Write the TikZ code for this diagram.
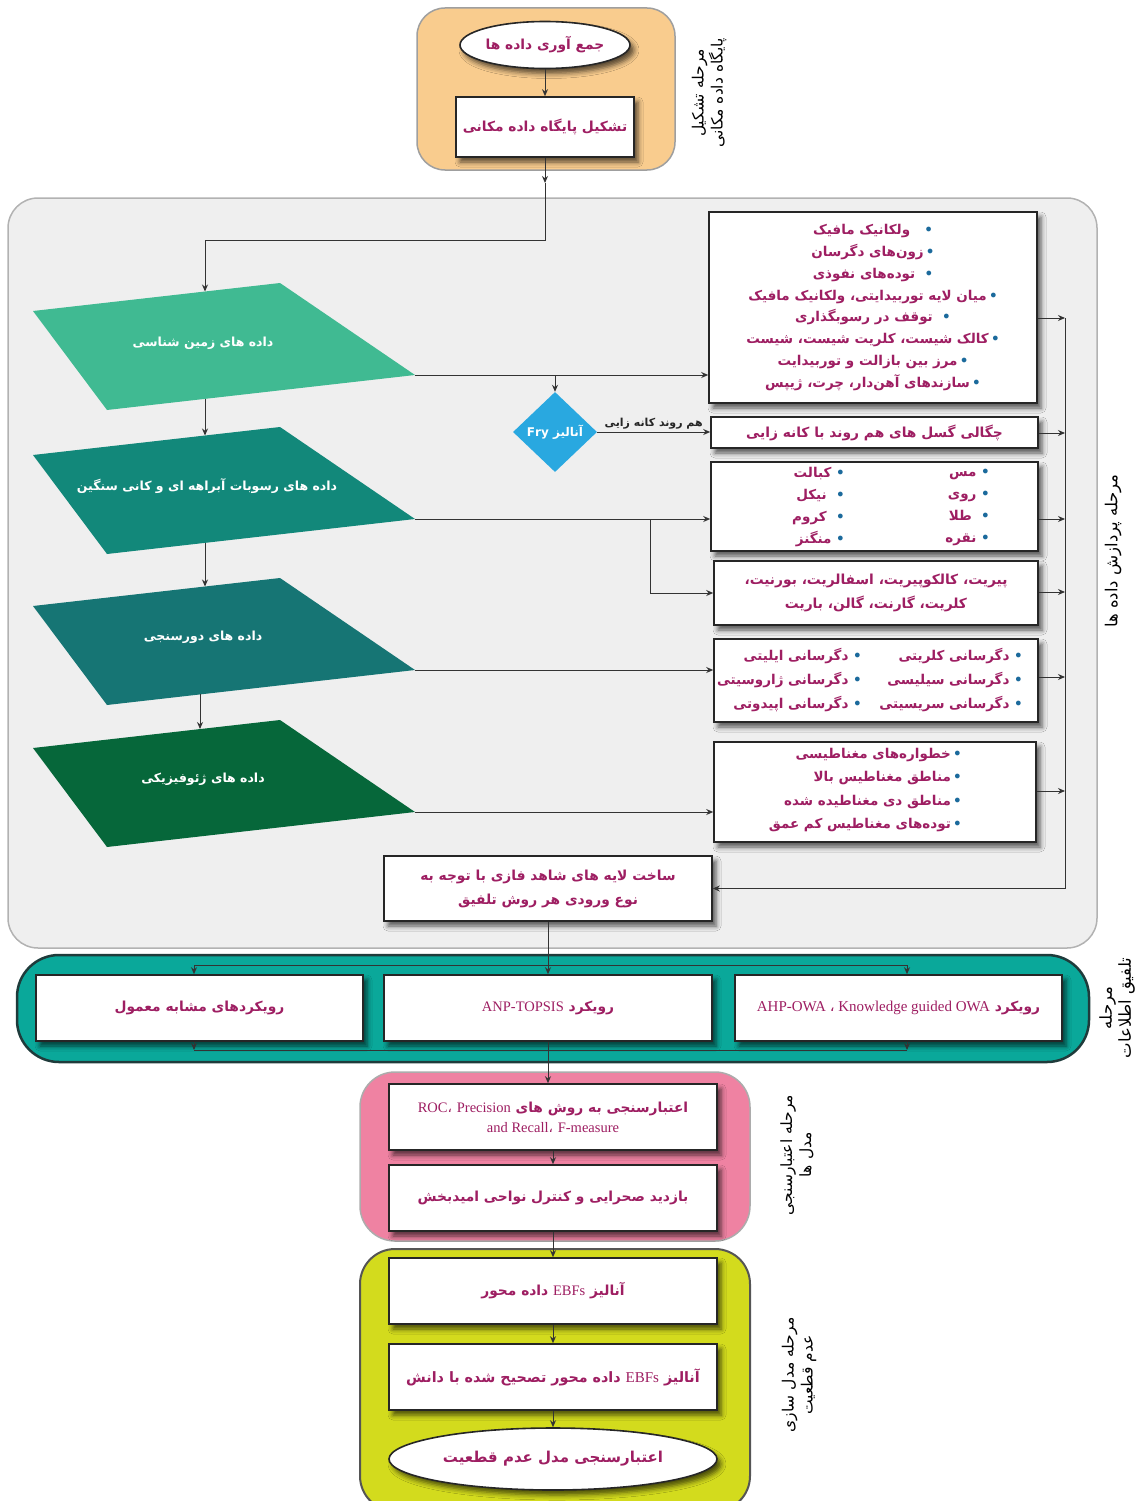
\documentclass[tikz,border=0pt]{standalone}
\usepackage{fontspec}
\usetikzlibrary{arrows.meta,shapes.geometric,shadows,shadows.blur,calc}
\TeXXeTstate=1
\newfontfamily\arabicfont[Script=Arabic]{DejaVu Sans}
\newfontfamily\latinfont{Liberation Serif}
\newcommand\fa[1]{\beginR #1\endR}
\newcommand\la[1]{\beginL{\latinfont\mdseries #1}\endL}
\newcommand\bul{{\color{bulletc}•}}
\definecolor{txt}{HTML}{9E1E62}
\definecolor{bulletc}{HTML}{1B6A9C}
\definecolor{linec}{HTML}{333333}
\definecolor{orangep}{HTML}{F9CC8E}
\definecolor{grayp}{HTML}{EFEFEF}
\definecolor{tealp}{HTML}{0AA89A}
\definecolor{tealb}{HTML}{1F3B3B}
\definecolor{pinkp}{HTML}{EF82A2}
\definecolor{yellowp}{HTML}{D3DB1D}
\definecolor{yellowb}{HTML}{555555}
\definecolor{pa}{HTML}{40BA92}
\definecolor{pb}{HTML}{12887A}
\definecolor{pc}{HTML}{167574}
\definecolor{pd}{HTML}{06673A}
\definecolor{fryc}{HTML}{29A8E0}
\begin{document}
\begin{tikzpicture}[x=1pt,y=-1pt,
  panel/.style={draw=gray!75, line width=1.5pt, inner sep=0pt},
  shadowed/.style={blur shadow={shadow xshift=4pt,shadow yshift=-5pt,shadow blur radius=5pt,shadow opacity=65}},
  box/.style={draw=black!85, line width=1.6pt, fill=white, shadowed, inner sep=0pt, align=center,
    text=txt, font=\arabicfont\bfseries\fontsize{13.8}{22}\selectfont},
  oval/.style={box, ellipse},
  ttext/.style={text=txt, font=\arabicfont\bfseries\fontsize{13.5}{22}\selectfont, inner sep=0pt},
  ptext/.style={text=white, font=\arabicfont\bfseries\fontsize{12.5}{16}\selectfont},
  stage/.style={font=\arabicfont\fontsize{15.5}{19}\selectfont, align=center, rotate=90, text=black},
  conn/.style={draw=linec, line width=1pt},
  arr/.style={conn, -{Stealth[length=7pt,width=6pt]}},
  lbl/.style={font=\arabicfont\bfseries\fontsize{11}{12}\selectfont, text=black!85, inner sep=1pt}
]
\useasboundingbox (0,0) rectangle (1136,1501);

% ---------- stage panels ----------
\node[panel, fill=orangep, minimum width=258, minimum height=162, rounded corners=28pt] (s1) at (546,89) {};
\node[panel, fill=grayp, draw=gray!60, minimum width=1089, minimum height=750, rounded corners=30pt] (s2) at (552.5,573) {};
\node[panel, fill=tealp, draw=tealb, line width=2.5pt, minimum width=1072, minimum height=107, rounded corners=42pt] (s3) at (553,1008.5) {};
\node[panel, fill=pinkp, draw=gray!65, minimum width=390, minimum height=169, rounded corners=35pt] (s4) at (555,1156.5) {};
\node[panel, fill=yellowp, draw=yellowb, line width=2pt, minimum width=390, minimum height=262, rounded corners=35pt] (s5) at (555,1380) {};

% ---------- stage labels ----------
\node[stage] (l1) at (709,93) {\fa{مرحله تشکیل}\\\fa{پایگاه داده مکانی}};
\node[stage, font=\arabicfont\fontsize{16.5}{19}\selectfont] (l2) at (1113,551) {\fa{مرحله پردازش داده ها}};
\node[stage, font=\arabicfont\fontsize{16.5}{19}\selectfont] (l3) at (1117,1008) {\fa{مرحله}\\\fa{تلفیق اطلاعات}};
\node[stage] (l4) at (797,1155) {\fa{مرحله اعتبارسنجی}\\\fa{مدل ها}};
\node[stage] (l5) at (799,1375) {\fa{مرحله مدل سازی}\\\fa{عدم قطعیت}};

% ---------- stage 1 ----------
\node[oval, minimum width=170, minimum height=47] (a1) at (545,45) {\fa{جمع آوری داده ها}};
\node[box, minimum width=178, minimum height=60] (a2) at (545,127) {\fa{تشکیل پایگاه داده مکانی}};
\draw[arr] (a1.south) -- (a2.north);
\coordinate (j0) at (545,183);
\draw[arr] (a2.south) -- (j0);

% ---------- parallelograms ----------
\foreach \yy/\cc/\nn in {283/pa/1, 427/pb/2, 578/pc/3, 720/pd/4}{
  \fill[\cc] (33,\yy+28) -- (280,\yy) -- (415,\yy+92) -- (107,\yy+127) -- cycle;
  \coordinate (p\nn r) at (415,\yy+92);
}
\node[ptext] (pt1) at (203,343) {\fa{داده های زمین شناسی}};
\node[ptext] (pt2) at (207,486) {\fa{داده های رسوبات آبراهه ای و کانی سنگین}};
\node[ptext] (pt3) at (203,637) {\fa{داده های دورسنجی}};
\node[ptext] (pt4) at (203,779) {\fa{داده های ژئوفیزیکی}};

\coordinate (p1top) at (205,291.5);
\coordinate (p1bot) at (205,399);
\coordinate (p2top) at (205,435.5);
\coordinate (p2bot) at (205,543);
\coordinate (p3top) at (205,586.5);
\coordinate (p3bot) at (200,694.4);
\coordinate (p4top) at (200,729);
\draw[arr] (j0) -- (545,240) -- (205,240) -- (p1top);
\draw[arr] (p1bot) -- (p2top);
\draw[arr] (p2bot) -- (p3top);
\draw[arr] (p3bot) -- (p4top);

% ---------- info boxes ----------
\node[box, minimum width=328, minimum height=191, font=\arabicfont\bfseries\fontsize{13.5}{21.9}\selectfont] (b1) at (873,307.5) {%
  \fa{ولکانیک مافیک}\ \ \ \bul\\
  \fa{زون‌های دگرسان}\,\bul\\
  \fa{توده‌های نفوذی}\ \ \bul\\
  \fa{میان لایه توربیدایتی، ولکانیک مافیک}\,\bul\\
  \fa{توقف در رسوبگذاری}\ \ \bul\\
  \fa{کالک شیست، کلریت شیست، شیست}\,\bul\\
  \fa{مرز بین بازالت و توربیدایت}\,\bul\\
  \fa{سازندهای آهن‌دار، چرت، ژیپس}\,\bul};
\node[box, minimum width=327, minimum height=31] (b2) at (874.5,432.5) {\fa{چگالی گسل های هم روند با کانه زایی}};
\node[box, minimum width=327, minimum height=89] (b3) at (874.5,506.5) {};
\node[ttext, anchor=east, align=right] (b3r) at (990,507) {\fa{مس}\ \bul\\\fa{روی}\ \bul\\\fa{طلا}\ \ \bul\\\fa{نقره}\ \bul};
\node[ttext, anchor=east, align=right] (b3l) at (845,507) {\fa{کبالت}\ \bul\\\fa{نیکل}\ \ \bul\\\fa{کروم}\ \ \bul\\\fa{منگنز}\ \bul};
\node[box, minimum width=324, minimum height=64, font=\arabicfont\bfseries\fontsize{13.8}{24}\selectfont] (b4) at (876,593) {\fa{پیریت، کالکوپیریت، اسفالریت، بورنیت،}\\\fa{کلریت، گارنت، گالن، باریت}};
\node[box, minimum width=324, minimum height=83] (b5) at (876,680.5) {};
\node[ttext, anchor=east, align=right, font=\arabicfont\bfseries\fontsize{13.5}{24}\selectfont] (b5r) at (1023,680) {\fa{دگرسانی کلریتی}\ \bul\\\fa{دگرسانی سیلیسی}\ \bul\\\fa{دگرسانی سریسیتی}\ \bul};
\node[ttext, anchor=east, align=right, font=\arabicfont\bfseries\fontsize{13.5}{24}\selectfont] (b5l) at (862,680) {\fa{دگرسانی ایلیتی}\ \bul\\\fa{دگرسانی ژاروسیتی}\ \bul\\\fa{دگرسانی اپیدوتی}\ \bul};
\node[box, minimum width=322, minimum height=100] (b6) at (875,792) {};
\node[ttext, anchor=east, align=right, font=\arabicfont\bfseries\fontsize{13.5}{23.3}\selectfont] (b6t) at (962,790) {\fa{خطواره‌های مغناطیسی}\,\bul\\\fa{مناطق مغناطیس بالا}\,\bul\\\fa{مناطق دی مغناطیده شده}\,\bul\\\fa{توده‌های مغناطیس کم عمق}\,\bul};
\node[box, minimum width=328, minimum height=65, font=\arabicfont\bfseries\fontsize{13.8}{24}\selectfont] (b7) at (548,888.5) {\fa{ساخت لایه های شاهد فازی با توجه به}\\\fa{نوع ورودی هر روش تلفیق}};

% Fry analysis
\node[diamond, fill=fryc, minimum width=84, minimum height=80, inner sep=0pt,
      text=white, font=\arabicfont\bfseries\fontsize{12}{14}\selectfont] (fry) at (555,432) {\fa{آنالیز \beginL Fry\endL}};
\coordinate (fj) at (555,375);
\draw[arr] (fj) -- (fry.north);
\draw[arr] (fry.east) -- node[lbl, above=1pt] (lfry) {\fa{هم روند کانه زایی}} (fry.east -| b2.west);

% left connectors
\draw[arr] (p1r) -- (p1r -| b1.west);
\draw[arr] (p2r) -- (p2r -| b3.west);
\coordinate (bj) at (650,519);
\draw[arr] (bj) -- (bj |- b4.west) -- (b4.west);
\draw[arr] (p3r) -- (p3r -| b5.west);
\draw[arr] (p4r) -- (p4r -| b6.west);

% right collector
\coordinate (r1) at (1065,318);
\coordinate (r2) at (1065,433);
\coordinate (r3) at (1065,519);
\coordinate (r4) at (1065,592);
\coordinate (r5) at (1065,677);
\coordinate (r6) at (1065,791);
\coordinate (r7) at (1065,888.5);
\draw[arr] (b1.east |- r1) -- (r1);
\draw[arr] (b2.east |- r2) -- (r2);
\draw[arr] (b3.east |- r3) -- (r3);
\draw[arr] (b4.east |- r4) -- (r4);
\draw[arr] (b5.east |- r5) -- (r5);
\draw[arr] (b6.east |- r6) -- (r6);
\draw[arr] (r1) -- (r7) -- (b7.east);

% ---------- fusion ----------
\node[box, minimum width=327, minimum height=66] (c1) at (199.5,1008) {\fa{رویکردهای مشابه معمول}};
\node[box, minimum width=328, minimum height=66] (c2) at (548,1008) {\fa{رویکرد \la{\fontsize{14.5}{16}\selectfont ANP-TOPSIS}}};
\node[box, minimum width=327, minimum height=66] (c3) at (898.5,1008) {\fa{رویکرد \la{\fontsize{15}{16}\selectfont AHP-OWA {\arabicfont ،} Knowledge guided OWA}}};
\coordinate (tl) at (194,965);
\coordinate (tc) at (548,965);
\coordinate (tr) at (907,965);
\coordinate (bl) at (194,1050);
\coordinate (br) at (907,1050);
\draw[conn] (b7.south) -- (tc);
\draw[conn] (tl) -- (tr);
\draw[arr] (tl) -- (tl |- c1.north);
\draw[arr] (tc) -- (c2.north);
\draw[arr] (tr) -- (tr |- c3.north);
\draw[arr] (bl |- c1.south) -- (bl);
\draw[arr] (br |- c3.south) -- (br);
\draw[conn] (bl) -- (br);

% ---------- validation ----------
\node[box, minimum width=328, minimum height=66, font=\arabicfont\bfseries\fontsize{13.8}{20}\selectfont] (d1) at (553,1117) {\fa{اعتبارسنجی به روش های \beginL{\latinfont\mdseries\fontsize{14.5}{16}\selectfont ROC}{\arabicfont\mdseries ،} {\latinfont\mdseries\fontsize{14.5}{16}\selectfont Precision}\endL}\\\beginL{\latinfont\mdseries\fontsize{14.5}{16}\selectfont and Recall}{\arabicfont\mdseries ،} {\latinfont\mdseries\fontsize{14.5}{16}\selectfont F-measure}\endL};
\node[box, minimum width=328, minimum height=66] (d2) at (553,1198) {\fa{بازدید صحرایی و کنترل نواحی امیدبخش}};
\draw[arr] (c2.south) -- (c2.south |- d1.north);
\draw[arr] (d1.south) -- (d2.north);

% ---------- uncertainty ----------
\node[box, minimum width=328, minimum height=66] (e1) at (553,1291) {\fa{آنالیز \la{\fontsize{14.5}{16}\selectfont EBFs} داده محور}};
\node[box, minimum width=328, minimum height=66, font=\arabicfont\bfseries\fontsize{14.3}{20}\selectfont] (e2) at (553,1377) {\fa{آنالیز \la{\fontsize{15}{16}\selectfont EBFs} داده محور تصحیح شده با دانش}};
\node[oval, minimum width=328, minimum height=62, font=\arabicfont\bfseries\fontsize{15}{20}\selectfont] (e3) at (553,1459) {\fa{اعتبارسنجی مدل عدم قطعیت}};
\draw[arr] (d2.south) -- (e1.north);
\draw[arr] (e1.south) -- (e2.north);
\draw[arr] (e2.south) -- (e3.north);
\end{tikzpicture}
\end{document}
